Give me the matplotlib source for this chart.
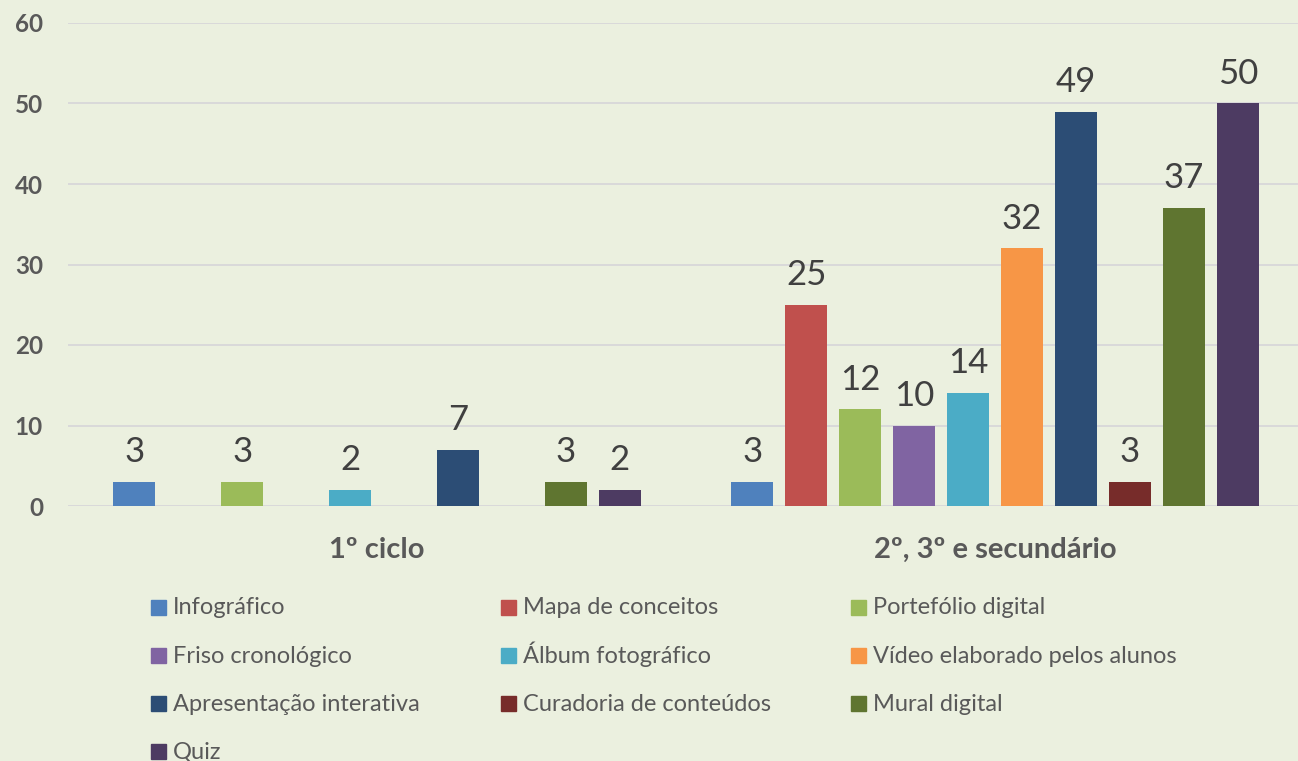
import matplotlib
matplotlib.use("Agg")
import matplotlib.pyplot as plt
from matplotlib.patches import Rectangle

plt.rcParams["font.family"] = ["Lato", "DejaVu Sans"]

# categories on the x axis
groups = ["1º ciclo", "2º, 3º e secundário"]

# one series per resource type, values for each group
series = ["Infográfico", "Mapa de conceitos", "Portefólio digital",
          "Friso cronológico", "Álbum fotográfico", "Vídeo elaborado pelos alunos",
          "Apresentação interativa", "Curadoria de conteúdos", "Mural digital", "Quiz"]
ciclo1 = [3, 0, 3, 0, 2, 0, 7, 0, 3, 2]
secundario = [3, 25, 12, 10, 14, 32, 49, 3, 37, 50]
colors = ["#4F81BD", "#C0504D", "#9BBB59", "#8064A2", "#4BACC6",
          "#F79646", "#2C4D75", "#772C2A", "#5F7530", "#4D3B62"]

bg = "#EBF0DF"
W, H = 1298, 761

fig = plt.figure(figsize=(W / 100, H / 100), dpi=100, facecolor=bg)
ax = fig.add_axes([68 / W, 1 - 506 / H, 1 - 68 / W, (506 - 23) / H])
ax.set_facecolor(bg)

step = 0.0873
width = 0.068
for i, name in enumerate(series):
    vals = [ciclo1[i], secundario[i]]
    x = [g + (i - 4.5) * step for g in range(len(groups))]
    bars = ax.bar(x, vals, width=width, color=colors[i], label=name, zorder=3)
    # no label on empty bars
    ax.bar_label(bars, labels=[str(v) if v > 0 else "" for v in vals],
                 padding=10, fontsize=25, color="#404040")

ax.set_ylim(0, 60)
ax.set_yticks(range(0, 61, 10))
ax.set_xlim(-0.5, 1.49)
ax.set_xticks(range(len(groups)))
ax.set_xticklabels(groups, fontsize=21, fontweight="bold", color="#595959")
ax.tick_params(axis="x", length=0, pad=22)
ax.tick_params(axis="y", length=0, pad=18, labelsize=17.5, labelcolor="#595959")
for lab in ax.get_yticklabels():
    lab.set_fontweight("bold")

ax.grid(axis="y", color="#D9D9D9", linewidth=1.4, zorder=0)
for s in ax.spines.values():
    s.set_visible(False)

# legend drawn by hand, 3 entries per row like the original
col_x = [151, 501, 851]
row_y = [607, 655.5, 703.5, 751]
for k, name in enumerate(series):
    px, py = col_x[k % 3], row_y[k // 3]
    fig.patches.append(Rectangle((px / W, 1 - (py + 7.5) / H), 15 / W, 15 / H,
                                 transform=fig.transFigure, color=colors[k]))
    fig.text((px + 22) / W, 1 - (py + 7.5) / H, name, fontsize=17,
             color="#595959", va="baseline", ha="left")

fig.savefig("out.png", dpi=100, facecolor=bg)
